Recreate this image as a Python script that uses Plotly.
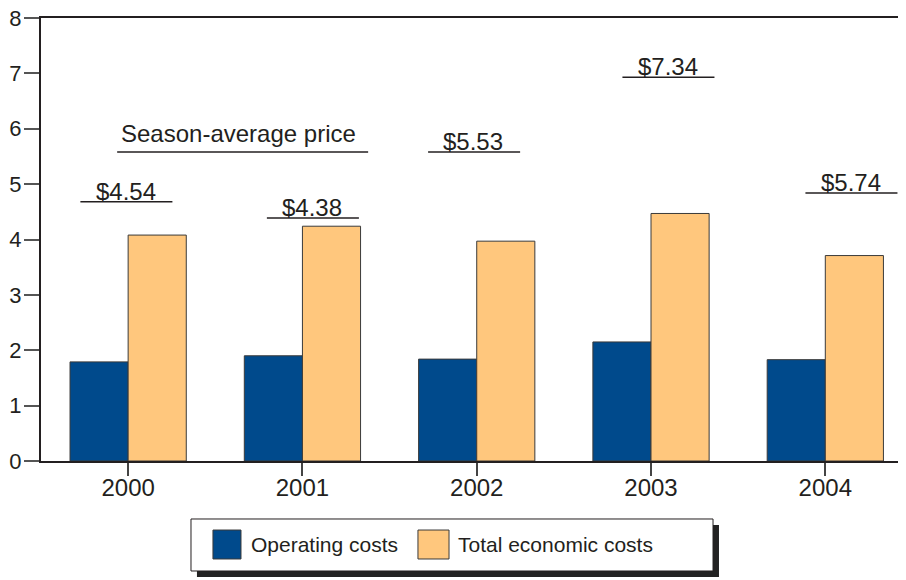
import plotly.graph_objects as go

years = ["2000", "2001", "2002", "2003", "2004"]
operating = [1.79, 1.90, 1.84, 2.15, 1.83]
total_economic = [4.08, 4.24, 3.97, 4.47, 3.71]
price_labels = ["$4.54", "$4.38", "$5.53", "$7.34", "$5.74"]
# heights at which the price markers are drawn in the picture
price_level = [4.68, 4.39, 5.58, 6.93, 4.84]
price_offset = [-0.01, 0.06, -0.015, 0.10, 0.15]

BLUE = "#004a8c"
ORANGE = "#ffc77d"
INK = "#231f20"
FONT = "Liberation Sans, Arial, sans-serif"

fig = go.Figure()
fig.add_trace(go.Bar(x=years, y=operating, name="Operating costs",
                     marker=dict(color=BLUE, line=dict(color="#3a3a3a", width=1))))
fig.add_trace(go.Bar(x=years, y=total_economic, name="Total economic costs",
                     marker=dict(color=ORANGE, line=dict(color="#3a3a3a", width=1))))

shapes = []
annotations = []
half = 0.264
for i, (lab, lvl, off) in enumerate(zip(price_labels, price_level, price_offset)):
    c = i + off
    shapes.append(dict(type="line", xref="x", yref="y", x0=c - half, x1=c + half,
                       y0=lvl, y1=lvl, line=dict(color=INK, width=1.5)))
    annotations.append(dict(x=c - 0.005, y=lvl, xref="x", yref="y", text=lab,
                            showarrow=False, yanchor="bottom", yshift=-5,
                            font=dict(size=24, color=INK, family=FONT)))

# "Season-average price" caption
shapes.append(dict(type="line", xref="x", yref="y", x0=0.657 - 0.72, x1=0.657 + 0.72,
                   y0=5.58, y1=5.58, line=dict(color=INK, width=1.5)))
annotations.append(dict(x=0.635, y=5.58, xref="x", yref="y", text="Season-average price",
                        showarrow=False, yanchor="bottom", yshift=3,
                        font=dict(size=24, color=INK, family=FONT)))

# hand-made legend box with drop shadow
shapes += [
    dict(type="rect", xref="paper", yref="paper", x0=0.1803, x1=0.7838, y0=-0.2619, y1=-0.1445,
         fillcolor="#222222", line=dict(width=0)),
    dict(type="rect", xref="paper", yref="paper", x0=0.1734, x1=0.7769, y0=-0.2483, y1=-0.1309,
         fillcolor="white", line=dict(color=INK, width=1)),
    dict(type="rect", xref="paper", yref="paper", x0=0.1988, x1=0.2312, y0=-0.2212, y1=-0.1558,
         fillcolor=BLUE, line=dict(color="#3a3a3a", width=1)),
    dict(type="rect", xref="paper", yref="paper", x0=0.4358, x1=0.4717, y0=-0.2212, y1=-0.1558,
         fillcolor=ORANGE, line=dict(color="#3a3a3a", width=1)),
]
annotations += [
    dict(x=0.2405, y=-0.1885, xref="paper", yref="paper", text="Operating costs",
         showarrow=False, xanchor="left", yanchor="middle",
         font=dict(size=21, color=INK, family=FONT)),
    dict(x=0.4800, y=-0.1885, xref="paper", yref="paper", text="Total economic costs",
         showarrow=False, xanchor="left", yanchor="middle",
         font=dict(size=21, color=INK, family=FONT)),
]

# page body has an 8px margin, so the figure is 8px smaller on each axis
fig.update_layout(
    width=898, height=572,
    margin=dict(l=33, r=0, t=10, b=119),
    paper_bgcolor="white", plot_bgcolor="white",
    barmode="group", bargap=0.333, bargroupgap=0,
    showlegend=False,
    font=dict(family=FONT, size=24, color=INK),
    shapes=shapes, annotations=annotations,
    xaxis=dict(type="category", range=[-0.5, 4.463], showgrid=False, automargin=False,
               showline=True, linecolor=INK, linewidth=1.5, mirror=True,
               ticks="outside", ticklen=13, tickcolor="#444444", tickwidth=1.5,
               ticklabelstandoff=-9, tickfont=dict(size=24)),
    yaxis=dict(range=[0, 8], dtick=1, showgrid=False, zeroline=False, automargin=False,
               showline=True, linecolor=INK, linewidth=2,
               ticks="outside", ticklen=15, tickcolor="#555555", tickwidth=1.5,
               ticklabelstandoff=-2, ticklabeloverflow="allow", tickfont=dict(size=22)),
)

fig.write_html("out.html")
